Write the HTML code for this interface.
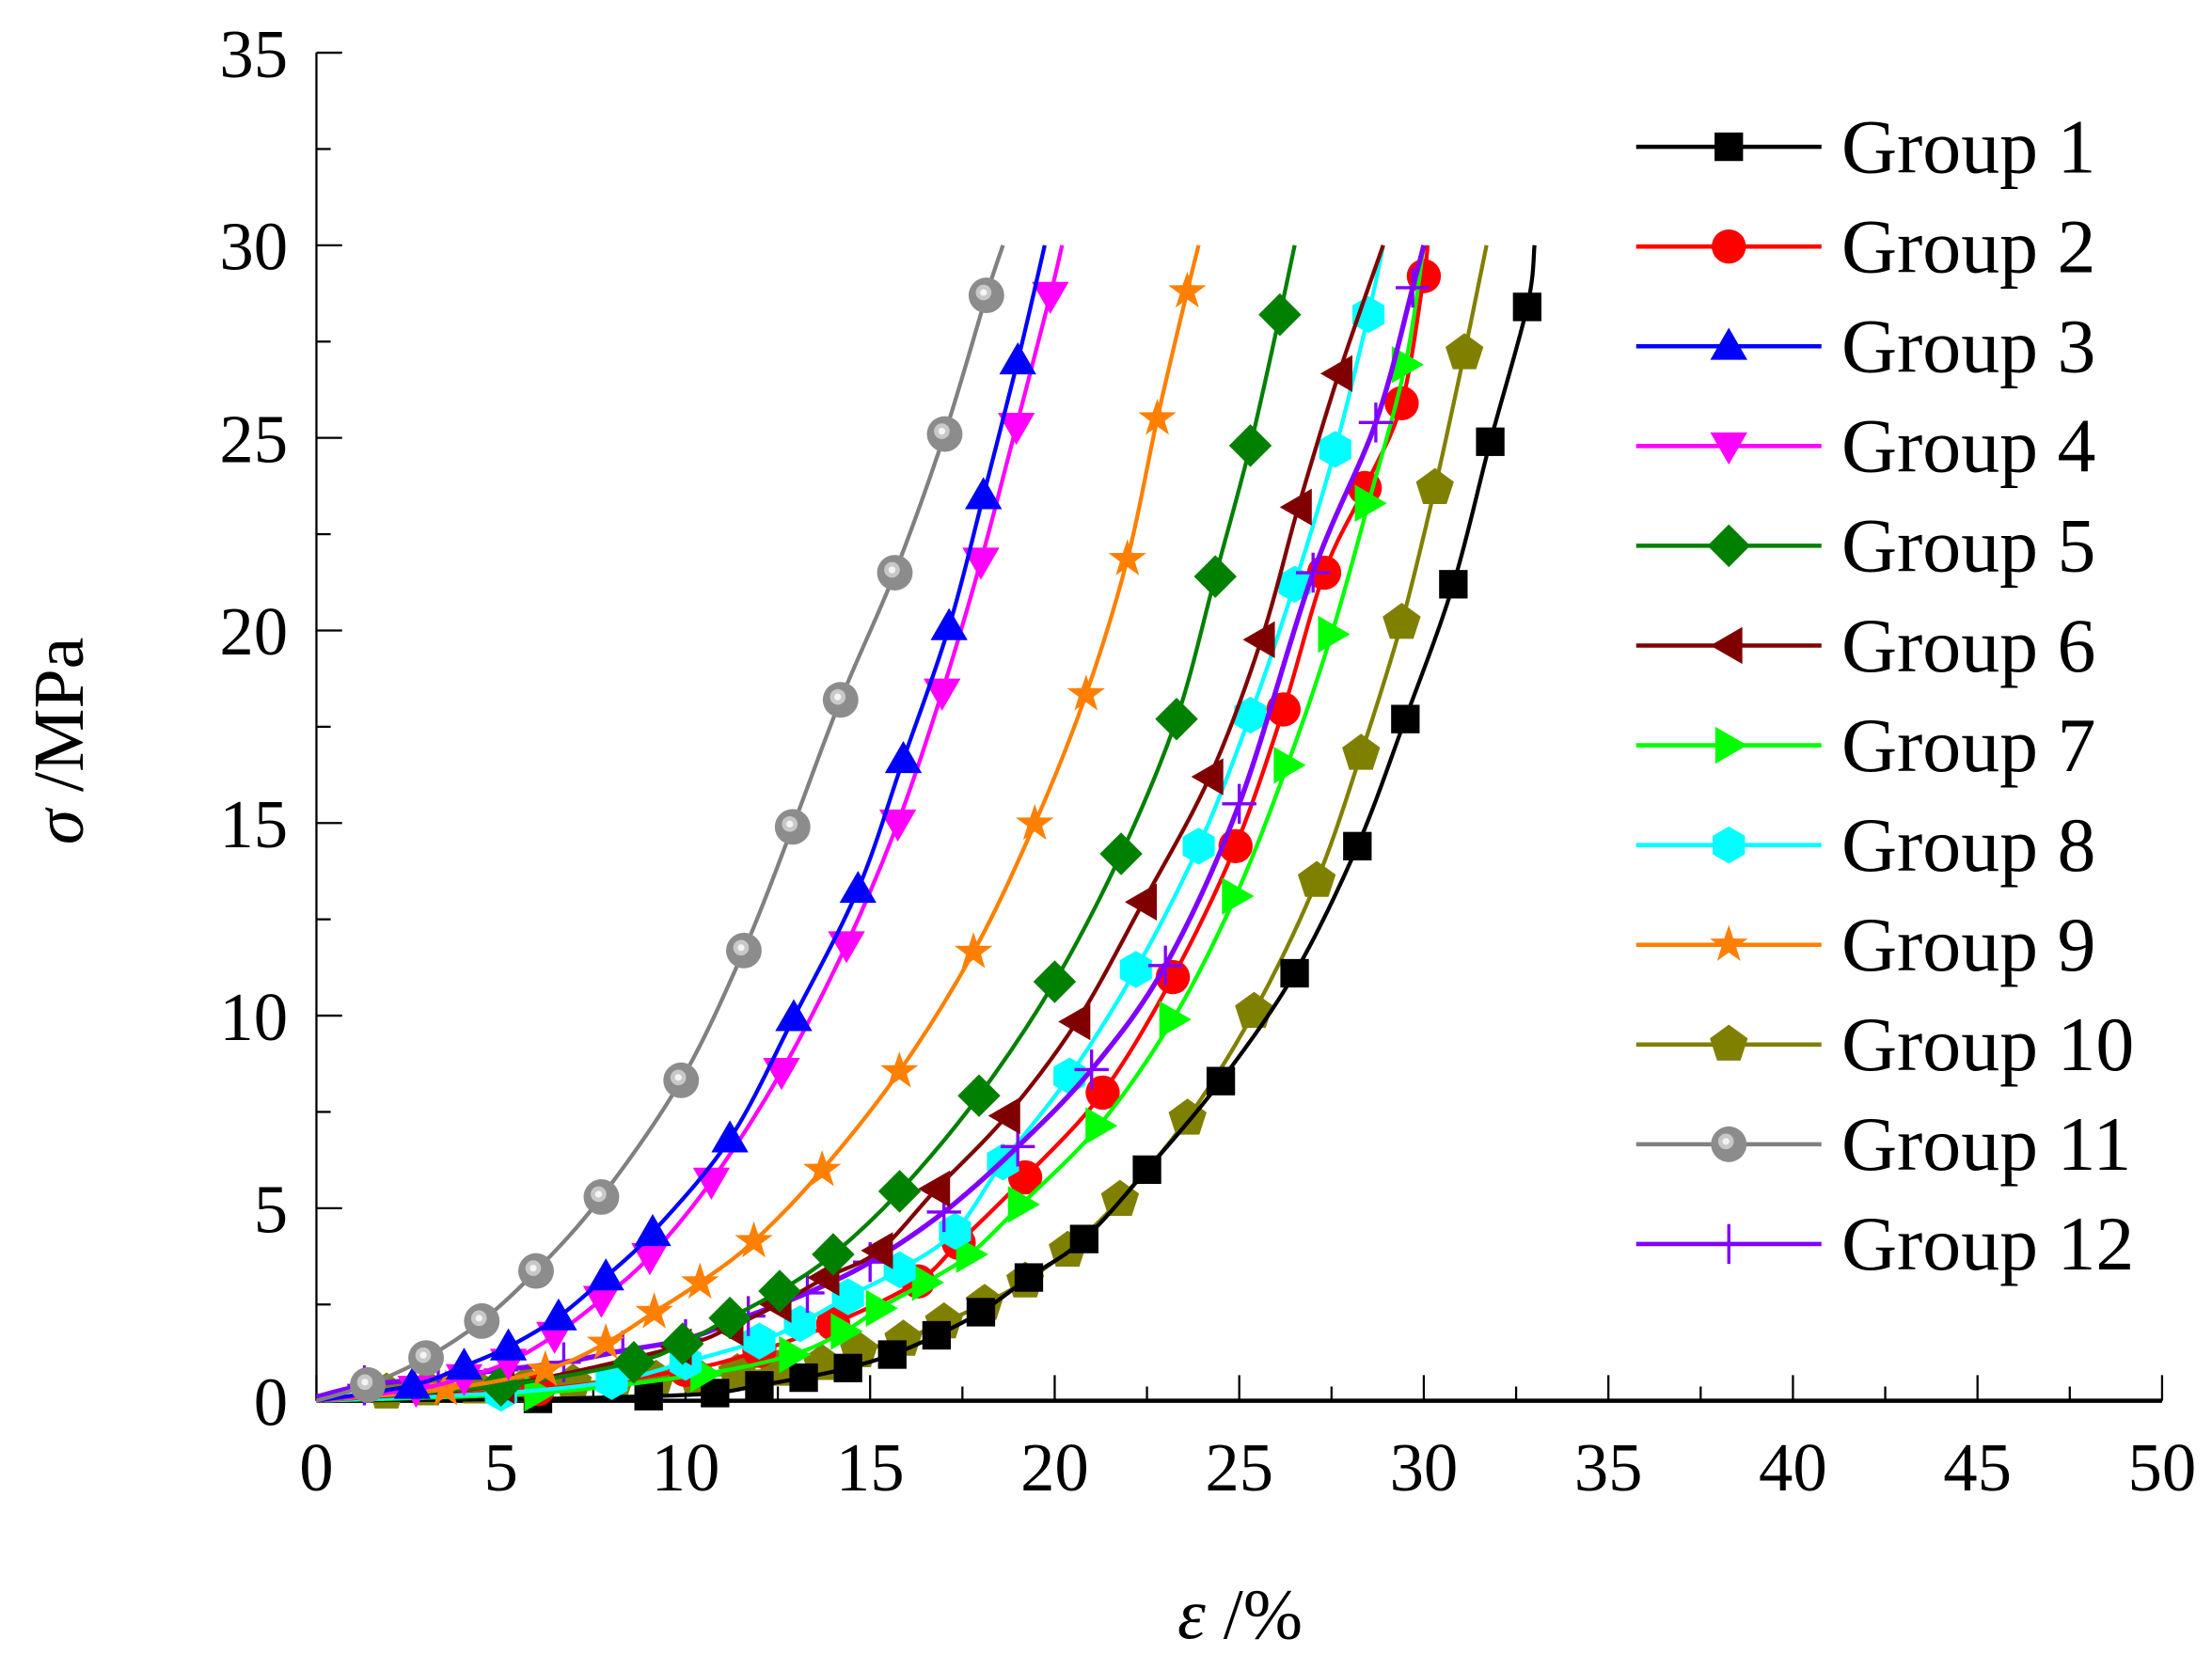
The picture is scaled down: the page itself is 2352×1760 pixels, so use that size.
<!DOCTYPE html>
<html><head><meta charset="utf-8"><style>
html,body{margin:0;padding:0;background:#fff;}
svg{display:block;}
text{font-family:"Liberation Serif",serif;fill:#000;}
</style></head><body>
<svg id="chart" width="2352" height="1760" viewBox="0 0 1552 1161.4" xmlns="http://www.w3.org/2000/svg">
<g id="axes"></g>
<g id="plot"></g>
<g id="legend"></g>
<text transform="translate(58,520) rotate(-90)" text-anchor="middle" font-size="50"><tspan font-style="italic">σ</tspan> /MPa</text>
<text x="870" y="1150" text-anchor="middle" font-size="50"><tspan font-style="italic">ε</tspan> /%</text>
</svg>
<script>
const xTicks=[0,5,10,15,20,25,30,35,40,45,50];
const yTicks=[0,5,10,15,20,25,30,35];
const names=["Group 1","Group 2","Group 3","Group 4","Group 5","Group 6","Group 7","Group 8","Group 9","Group 10","Group 11","Group 12"];
const colors=["#000000","#ff0000","#0000ff","#ff00ff","#008000","#800000","#00ff00","#00ffff","#ff8000","#808000","#808080","#8000ff"];
const shapes=["square","circle","up","down","diamond","left","right","hex","star","pent","sphere","plus"];
const g1x=[0,6,9,10.8,12.0,13.2,14.4,15.6,16.8,18.0,19.3,20.8,22.5,24.5,26.5,28.2,29.5,30.8,31.8,32.8,33.0];
const g1y=[0,0.05,0.12,0.2,0.4,0.6,0.85,1.2,1.7,2.3,3.2,4.2,6.0,8.3,11.1,14.4,17.7,21.2,24.9,28.4,30];
const g2x=[0,6,10,12,14,16.3,17.4,19.2,21.3,23.2,24.9,26.2,27.3,28.4,29.4,30.0,30.1];
const g2y=[0,0.3,0.8,1.3,2.0,3.1,4.1,5.8,8.0,11.0,14.4,17.95,21.5,23.7,25.9,29.2,30];
const g3x=[0,2.6,4.0,5.2,6.56,7.84,9.11,11.2,12.93,14.67,15.9,17.14,18.07,19.0,19.73];
const g3y=[0,0.4,0.9,1.4,2.18,3.22,4.37,6.8,9.95,13.28,16.65,20.1,23.5,27.0,30];
const g4x=[0,2.7,4.0,5.2,6.45,7.72,9.03,10.7,12.6,14.36,15.75,16.95,18.0,18.96,19.88,20.2];
const g4y=[0,0.3,0.6,1.0,1.7,2.63,3.74,5.7,8.55,11.84,15.0,18.4,21.8,25.3,28.7,30];
const g9x=[0,3.5,6.2,7.84,9.15,10.39,11.85,13.7,15.79,17.8,19.46,20.85,21.97,22.78,23.59,23.9];
const g9y=[0,0.3,0.8,1.5,2.3,3.07,4.14,5.99,8.55,11.65,14.98,18.34,21.85,25.5,28.8,30];
const g5x=[0,5,8.6,9.92,11.2,12.55,14.0,15.8,17.95,20.0,21.8,23.3,24.35,25.3,26.1,26.5];
const g5y=[0,0.4,1.0,1.48,2.15,2.85,3.8,5.44,7.92,10.88,14.2,17.7,21.4,24.8,28.2,30];
const g6x=[0,5,9.8,11.2,12.5,13.8,15.25,16.8,18.7,20.6,22.4,24.2,25.6,26.6,27.7,28.9];
const g6y=[0,0.4,1.4,1.9,2.5,3.2,3.9,5.5,7.4,9.84,12.95,16.2,19.76,23.2,26.67,30];
const g7x=[0,6,10.5,12.9,14.3,15.25,16.5,17.7,19.1,21.2,23.2,24.9,26.3,27.5,28.5,29.5,30.0];
const g7y=[0,0.2,0.7,1.2,1.8,2.4,3.07,3.8,5.1,7.14,9.9,13.1,16.5,19.9,23.3,26.9,30];
const g8x=[0,5,8,10,12,13.1,14.4,15.8,17.3,18.6,20.4,22.2,23.9,25.3,26.5,27.6,28.5,28.9];
const g8y=[0,0.2,0.5,1.0,1.55,2.0,2.7,3.4,4.4,6.2,8.43,11.2,14.4,17.8,21.2,24.7,28.2,30];
const g10x=[0,1.9,3.0,4.3,5.7,6.95,8.1,9.2,10.3,11.4,12.5,13.7,14.7,15.9,17.0,18.1,19.2,20.35,21.77,23.6,25.4,27.1,28.3,29.4,30.3,31.1,31.7];
const g10y=[0,0.22,0.3,0.35,0.4,0.45,0.5,0.55,0.63,0.72,0.81,0.96,1.29,1.59,2.04,2.52,3.1,3.9,5.22,7.33,10.1,13.5,16.8,20.2,23.7,27.2,30];
const g11x=[0,1.39,2.97,4.48,5.95,7.72,9.88,11.58,12.9,14.2,15.67,17.02,18.15,18.6];
const g11y=[0,0.41,1.11,2.07,3.37,5.29,8.32,11.69,14.9,18.2,21.5,25.1,28.7,30];
const g12x=[0,1.3,3.3,5,6.7,8.3,10,11.7,13.3,15,17,19,21,23,25,27,28.7,29.7,30];
const g12y=[0.1,0.4,0.6,0.8,1.0,1.3,1.6,2.2,2.8,3.6,4.9,6.6,8.6,11.3,15.5,21.5,25.4,28.9,30];
const seriesX=[g1x,g2x,g3x,g4x,g5x,g6x,g7x,g8x,g9x,g10x,g11x,g12x];
const seriesY=[g1y,g2y,g3y,g4y,g5y,g6y,g7y,g8y,g9y,g10y,g11y,g12y];

const X0=222,X1=1517,Y0=983,Y1=37;
function sx(v){return X0+(v-0)/(50-0)*(X1-X0);}
function sy(v){return Y0-(v-0)/(35-0)*(Y0-Y1);}
const NS="http://www.w3.org/2000/svg";
function mk(tag,attrs,parent){const e=document.createElementNS(NS,tag);for(const k in attrs)e.setAttribute(k,attrs[k]);parent.appendChild(e);return e;}
const axes=document.getElementById('axes'),plot=document.getElementById('plot'),legend=document.getElementById('legend');

let a=mk('line',{x1:X0,y1:Y0,x2:X1,y2:Y0,stroke:'#000','stroke-width':3},axes);


a=mk('line',{x1:X0,y1:Y0,x2:X0,y2:Y1,stroke:'#000','stroke-width':1.5},axes);


xTicks.forEach((t,i)=>{
  const x=sx(t);
  const l=mk('line',{x1:x,y1:Y0,x2:x,y2:Y0-18,stroke:'#000','stroke-width':1.5},axes);
  
  
  if(i<xTicks.length-1){const xm=sx(t+2.5);mk('line',{x1:xm,y1:Y0,x2:xm,y2:Y0-10,stroke:'#000','stroke-width':1.5},axes);}
  const tx=mk('text',{x:x,y:Y0+63,'text-anchor':'middle','font-size':48},axes);
  tx.textContent=t;
  
  
});
yTicks.forEach((t,i)=>{
  const y=sy(t);
  const l=mk('line',{x1:X0,y1:y,x2:X0+18,y2:y,stroke:'#000','stroke-width':1.5},axes);
  
  
  if(i<yTicks.length-1){const ym=sy(t+2.5);mk('line',{x1:X0,y1:ym,x2:X0+10,y2:ym,stroke:'#000','stroke-width':1.5},axes);}
  const tx=mk('text',{x:X0-20,y:y+17,'text-anchor':'end','font-size':48},axes);
  tx.textContent=t;
  
  
});

function smooth(pts){
  let d='M'+pts[0][0]+','+pts[0][1];
  for(let i=0;i<pts.length-1;i++){
    const p0=pts[Math.max(0,i-1)],p1=pts[i],p2=pts[i+1],p3=pts[Math.min(pts.length-1,i+2)];
    const c1=[p1[0]+(p2[0]-p0[0])/6,p1[1]+(p2[1]-p0[1])/6];
    const c2=[p2[0]-(p3[0]-p1[0])/6,p2[1]-(p3[1]-p1[1])/6];
    d+=' C'+c1[0].toFixed(1)+','+c1[1].toFixed(1)+' '+c2[0].toFixed(1)+','+c2[1].toFixed(1)+' '+p2[0].toFixed(1)+','+p2[1].toFixed(1);
  }
  return d;
}
function poly(cx,cy,r,n,rot){let s=[];for(let k=0;k<n;k++){const a=rot+k*2*Math.PI/n;s.push((cx+r*Math.cos(a)).toFixed(1)+','+(cy+r*Math.sin(a)).toFixed(1));}return s.join(' ');}
function marker(shape,color,cx,cy,parent){
  const r=13;let e;
  if(shape==='square')e=mk('rect',{x:cx-10,y:cy-10,width:20,height:20,fill:color},parent);
  else if(shape==='circle')e=mk('circle',{cx:cx,cy:cy,r:12,fill:color},parent);
  else if(shape==='sphere'){e=mk('g',{},parent);mk('circle',{cx:cx,cy:cy,r:12.5,fill:'#8c8c8c'},e);mk('circle',{cx:cx-2,cy:cy-2,r:5.5,fill:'#c8c8c8'},e);mk('circle',{cx:cx-2,cy:cy-2,r:2.4,fill:'#f4f4f4'},e);}
  else if(shape==='up')e=mk('polygon',{points:poly(cx,cy+2,r+2,3,-Math.PI/2),fill:color},parent);
  else if(shape==='down')e=mk('polygon',{points:poly(cx,cy-2,r+2,3,Math.PI/2),fill:color},parent);
  else if(shape==='left')e=mk('polygon',{points:poly(cx+2,cy,r+2,3,Math.PI),fill:color},parent);
  else if(shape==='right')e=mk('polygon',{points:poly(cx-2,cy,r+2,3,0),fill:color},parent);
  else if(shape==='diamond')e=mk('polygon',{points:poly(cx,cy,r+2,4,0),fill:color},parent);
  else if(shape==='hex')e=mk('polygon',{points:poly(cx,cy,r,6,Math.PI/2),fill:color},parent);
  else if(shape==='pent')e=mk('polygon',{points:poly(cx,cy,r+1,5,-Math.PI/2),fill:color},parent);
  else if(shape==='star'){let s=[];for(let k=0;k<10;k++){const a=-Math.PI/2+k*Math.PI/5;const rr=k%2?5.5:14;s.push((cx+rr*Math.cos(a)).toFixed(1)+','+(cy+rr*Math.sin(a)).toFixed(1));}e=mk('polygon',{points:s.join(' '),fill:color},parent);}
  else if(shape==='plus'){e=mk('path',{d:`M${cx-12},${cy}H${cx+12}M${cx},${cy-14}V${cy+14}`,stroke:color,'stroke-width':2.2,fill:'none'},parent);}
  return e;
}

const order=[9,0,1,6,7,11,5,4,8,3,2,10];
order.forEach(i=>{
  const g=mk('g',{},plot);
  
  
  const pts=seriesX[i].map((x,k)=>[sx(x),sy(seriesY[i][k])]);
  const p=mk('path',{d:smooth(pts),fill:'none',stroke:colors[i],'stroke-width':i===11?3.5:2.8},g);
  
  
  for(let k=1;k<pts.length-1;k++){
    const m=marker(shapes[i],colors[i],pts[k][0],pts[k][1],g);
    
    
  }
});

names.forEach((n,i)=>{
  const y=103+i*70;
  const g=mk('g',{},legend);
  
  
  mk('line',{x1:1148,y1:y,x2:1278,y2:y,stroke:colors[i],'stroke-width':3},g);
  marker(shapes[i],colors[i],1213,y,g);
  const t=mk('text',{x:1292,y:y+18,'font-size':54},g);
  t.textContent=n;
  
  
});
</script>
</body></html>
